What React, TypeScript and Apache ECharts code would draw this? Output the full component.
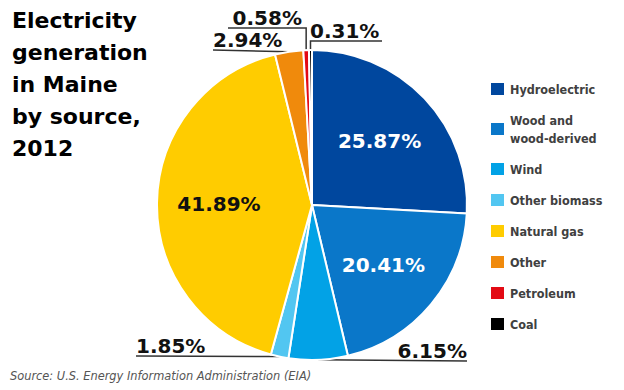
import React, { useEffect, useRef } from "react";
import * as echarts from "echarts";

const categories = [
  "Hydroelectric",
  "Wood and wood-derived",
  "Wind",
  "Other biomass",
  "Natural gas",
  "Other",
  "Petroleum",
  "Coal",
];
const shares = [25.87, 20.41, 6.15, 1.85, 41.89, 2.94, 0.58, 0.31];
const sliceColors = ["#00479E", "#0A77C9", "#02A2E6", "#52C6F1", "#FFCC00", "#F08A0C", "#E30A14", "#000000"];
const insideLabelNames = ["Hydroelectric", "Wood and wood-derived", "Natural gas"];
const insideLabelColors: Record<string, string> = {
  Hydroelectric: "#ffffff",
  "Wood and wood-derived": "#ffffff",
  "Natural gas": "#111111",
};

const titleText = "Electricity\ngeneration\nin Maine\nby source,\n2012";
const sourceText = "Source: U.S. Energy Information Administration (EIA)";

// label placement (styling): underline y, text anchor x, alignment, line end x, elbow
const outsideSpots: Record<string, { lineY: number; textX: number; align: string; endX: number; elbow: boolean }> = {
  Wind: { lineY: 361, textX: 467, align: "right", endX: 467, elbow: false },
  "Other biomass": { lineY: 356, textX: 136, align: "left", endX: 136, elbow: false },
  Other: { lineY: 50, textX: 213, align: "left", endX: 213, elbow: false },
  Petroleum: { lineY: 28, textX: 302, align: "right", endX: 228, elbow: true },
  Coal: { lineY: 41, textX: 310, align: "left", endX: 382, elbow: true },
};

const FONT = "'DejaVu Sans', Verdana, sans-serif";

export default function App() {
  const ref = useRef<HTMLDivElement>(null);

  useEffect(() => {
    document.body.style.margin = "0";
    if (!ref.current) return;
    const chart = echarts.init(ref.current, undefined, { renderer: "svg" });

    const fmt = (v: number) => v.toFixed(2) + "%";

    const mainData = categories.map((name, i) => {
      const isOutside = !!outsideSpots[name];
      return {
        name,
        value: shares[i],
        itemStyle: { color: sliceColors[i] },
        label: {
          show: isOutside,
          position: "outside",
          formatter: () => fmt(shares[i]),
          color: "#111111",
          fontFamily: FONT,
          fontWeight: "bold",
          fontSize: 20,
          lineHeight: 20,
        },
        labelLine: {
          show: isOutside,
          lineStyle: { color: "#333333", width: 1.5 },
        },
      };
    });

    const overlayData = categories.map((name, i) => {
      const show = insideLabelNames.includes(name);
      return {
        name,
        value: shares[i],
        itemStyle: { color: "rgba(0,0,0,0)", borderWidth: 0 },
        label: {
          show,
          position: "inside",
          formatter: () => fmt(shares[i]),
          color: insideLabelColors[name] || "#000",
          fontFamily: FONT,
          fontWeight: "bold",
          fontSize: 20,
        },
      };
    });

    const option: any = {
      animation: false,
      backgroundColor: "#ffffff",
      title: {
        text: titleText,
        left: 12,
        top: 4,
        padding: 0,
        textStyle: {
          fontFamily: FONT,
          fontWeight: "bold",
          fontSize: 22,
          lineHeight: 32,
          color: "#000000",
        },
      },
      legend: {
        orient: "vertical",
        left: 489,
        top: 80,
        padding: 0,
        itemWidth: 15,
        itemHeight: 14,
        itemGap: 13,
        icon: "rect",
        selectedMode: false,
        data: categories,
        formatter: (name: string) => (name === "Wood and wood-derived" ? "Wood and\nwood-derived" : name),
        textStyle: {
          fontFamily: "'DejaVu Sans Condensed', 'DejaVu Sans', sans-serif",
          fontWeight: "bold",
          fontSize: 12.5,
          lineHeight: 18,
          color: "#404040",
        },
      },
      graphic: [
        {
          type: "text",
          left: 10,
          top: 370,
          style: {
            text: sourceText,
            font: "italic 11.4px 'DejaVu Sans', sans-serif",
            fill: "#555555",
          },
        },
      ],
      series: [
        {
          type: "pie",
          center: [312, 205],
          radius: [0, 155],
          startAngle: 90,
          clockwise: true,
          avoidLabelOverlap: false,
          silent: true,
          itemStyle: { borderColor: "#ffffff", borderWidth: 2 },
          emphasis: { disabled: true },
          data: mainData,
          labelLayout: (params: any) => {
            const name = categories[params.dataIndex];
            const spot = outsideSpots[name];
            if (!spot) return {};
            const pts = params.labelLinePoints;
            const p0 = pts && pts[0] ? pts[0] : [312, 205];
            const linePts = spot.elbow
              ? [p0, [p0[0], spot.lineY], [spot.endX, spot.lineY]]
              : [p0, [spot.endX, spot.lineY]];
            return {
              x: spot.textX,
              y: spot.lineY - 10,
              align: spot.align,
              verticalAlign: "middle",
              labelLinePoints: linePts,
            };
          },
        },
        {
          type: "pie",
          center: [312, 205],
          radius: [25, 155],
          startAngle: 90,
          clockwise: true,
          silent: true,
          avoidLabelOverlap: false,
          emphasis: { disabled: true },
          labelLine: { show: false },
          data: overlayData,
        },
      ],
    };

    chart.setOption(option);
    return () => chart.dispose();
  }, []);

  return <div ref={ref} style={{ width: 624, height: 390 }} />;
}
